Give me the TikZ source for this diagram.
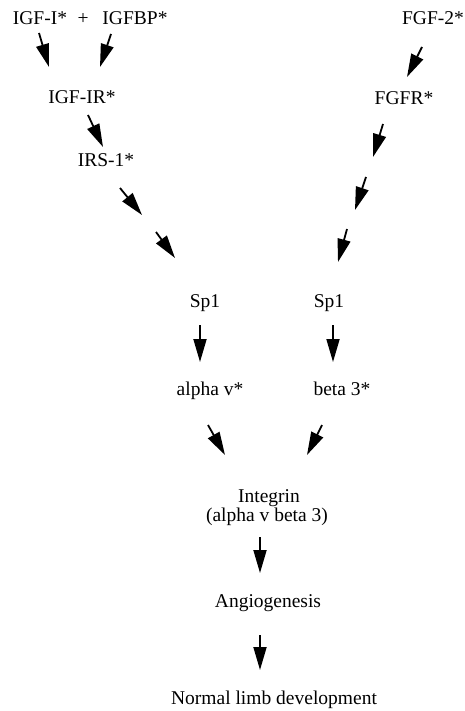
\documentclass[tikz,border=0pt]{standalone}
\usepackage{fontspec}
\setmainfont{Liberation Serif}
\usetikzlibrary{arrows.meta}
\begin{document}
\begin{tikzpicture}[x=1pt,y=-1pt,
  lbl/.style={anchor=base,inner sep=0pt,font=\fontsize{19.5}{22}\selectfont},
  pathway/.style={line width=1.8pt,-{Triangle[length=23pt,width=13pt]}}]
\useasboundingbox (0,0) rectangle (464,711);
% labels
\node[lbl] (igf1) at (40,25) {IGF-I*};
\node[lbl] (plus) at (83,25) {+};
\node[lbl] (igfbp) at (135,25) {IGFBP*};
\node[lbl] (fgf2) at (433,25) {FGF-2*};
\node[lbl] (igf1r) at (82,104) {IGF-IR*};
\node[lbl] (fgfr) at (404,105) {FGFR*};
\node[lbl] (irs1) at (106,167) {IRS-1*};
\node[lbl] (sp1l) at (205,307) {Sp1};
\node[lbl] (sp1r) at (329,307) {Sp1};
\node[lbl] (alphav) at (210,395) {alpha v*};
\node[lbl] (beta3) at (342,395) {beta 3*};
\node[lbl] (integrin) at (269,502) {Integrin};
\node[lbl] (integrin2) at (267,521) {(alpha v beta 3)};
\node[lbl] (angio) at (268,607) {Angiogenesis};
\node[lbl] (limb) at (274,704) {Normal limb development};
% arrow end points
\coordinate (a1s) at (39,33);   \coordinate (a1e) at (49,67);
\coordinate (a2s) at (111,34);  \coordinate (a2e) at (100,67);
\coordinate (a3s) at (88,115);  \coordinate (a3e) at (103,147);
\coordinate (a4s) at (120,188); \coordinate (a4e) at (142,215);
\coordinate (a5s) at (156,232); \coordinate (a5e) at (175,258);
\coordinate (b1s) at (422,47);  \coordinate (b1e) at (407,77);
\coordinate (b2s) at (383,124); \coordinate (b2e) at (373,157);
\coordinate (b3s) at (366,177); \coordinate (b3e) at (355,210);
\coordinate (b4s) at (347,229); \coordinate (b4e) at (338,262);
\coordinate (c1s) at (200,325); \coordinate (c1e) at (200,362);
\coordinate (c2s) at (333,325); \coordinate (c2e) at (333,362);
\coordinate (d1s) at (208,425); \coordinate (d1e) at (225,455);
\coordinate (d2s) at (322,425); \coordinate (d2e) at (307,455);
\coordinate (e1s) at (260,537); \coordinate (e1e) at (260,573);
\coordinate (e2s) at (260,635); \coordinate (e2e) at (260,670);
% arrows
\foreach \a in {a1,a2,a3,a4,a5,b1,b2,b3,b4,c1,c2,d1,d2,e1,e2}
  \draw[pathway] (\a s) -- (\a e);
\end{tikzpicture}
\end{document}
